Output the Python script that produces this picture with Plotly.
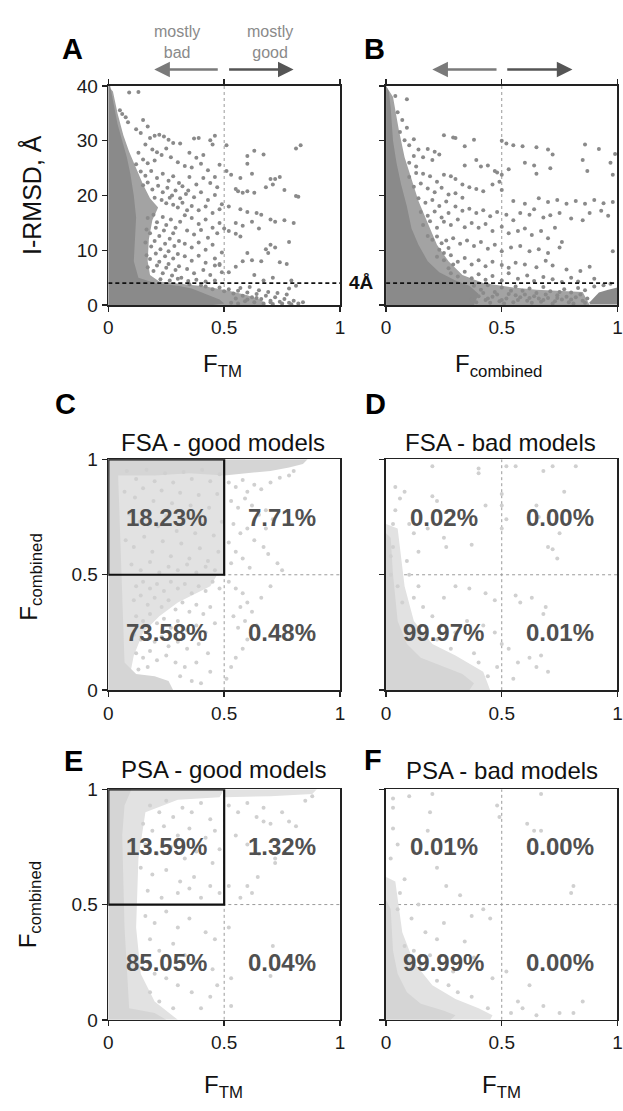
import plotly.graph_objects as go

W, H = 623, 1111

# ---------------- data ----------------
f_ticks = [0, 0.5, 1]
f_ticklabels = ["0", "0.5", "1"]
rmsd_ticks = [0, 10, 20, 30, 40]
rmsd_ticklabels = ["0", "10", "20", "30", "40"]
rmsd_cutoff = 4
split = 0.5

quad_x = [0.25, 0.75, 0.25, 0.75]
quad_y = [0.75, 0.75, 0.25, 0.25]
pct_fsa_good = ["18.23%", "7.71%", "73.58%", "0.48%"]
pct_fsa_bad = ["0.02%", "0.00%", "99.97%", "0.01%"]
pct_psa_good = ["13.59%", "1.32%", "85.05%", "0.04%"]
pct_psa_bad = ["0.01%", "0.00%", "99.99%", "0.00%"]

# Panel A: F_TM vs I-RMSD  (dense core outline, speckled halo outline, individual points)
a_halo_x = [0, 0.02, 0.04, 0.065, 0.09, 0.12, 0.15, 0.18, 0.215, 0.19, 0.175, 0.17, 0.18, 0.22, 0.3,
            0.42, 0.52, 0.6, 0.66, 0.68, 0]
a_halo_y = [40, 39, 35, 31, 28, 25, 22, 19.5, 17.8, 15.5, 12, 8, 5.5, 4.3, 3.9, 3.4, 2.6, 1.8, 0.9, 0, 0]
a_core_x = [0, 0, 0.008, 0.025, 0.04, 0.06, 0.08, 0.095, 0.11, 0.12, 0.115, 0.11, 0.13, 0.2, 0.3,
            0.36, 0.42, 0.48, 0.5, 0.45, 0]
a_core_y = [0, 40, 40, 36, 33, 30, 27, 24, 20, 16, 12, 8, 5, 4, 3.5, 3, 2, 1, 0.3, 0, 0]
a_pts = [
    (0.09, 38.8), (0.13, 38.9), (0.05, 35.6), (0.06, 34.9), (0.075, 34.3), (0.085, 33.4), (0.12, 32.1),
    (0.15, 33.8), (0.17, 32.6), (0.14, 31.4), (0.18, 30.5), (0.2, 30.9), (0.22, 31.1), (0.24, 30.8),
    (0.26, 30.2), (0.28, 29.6), (0.16, 29.3), (0.19, 28.4), (0.21, 27.9), (0.23, 27.4), (0.25, 28.6),
    (0.27, 27.0), (0.13, 27.8), (0.15, 26.6), (0.17, 25.9), (0.2, 26.4), (0.3, 26.1), (0.33, 25.4),
    (0.12, 25.7), (0.14, 24.4), (0.16, 23.6), (0.185, 24.5), (0.21, 23.2), (0.235, 24.0), (0.26, 22.7),
    (0.28, 23.5), (0.305, 22.3), (0.32, 21.7), (0.15, 21.9), (0.17, 22.4), (0.19, 21.1), (0.215, 21.8),
    (0.235, 20.6), (0.255, 21.4), (0.275, 20.0), (0.29, 20.9), (0.31, 19.5), (0.335, 20.3), (0.2, 19.6),
    (0.23, 19.2), (0.25, 18.6), (0.265, 19.6), (0.28, 18.3), (0.3, 17.8), (0.32, 18.7), (0.34, 17.3),
    (0.17, 15.9), (0.195, 16.5), (0.21, 15.1), (0.235, 16.1), (0.25, 14.6), (0.27, 15.6), (0.29, 14.1),
    (0.31, 15.2), (0.165, 13.8), (0.18, 13.1), (0.205, 14.1), (0.22, 12.6), (0.24, 13.6), (0.265, 12.1),
    (0.28, 13.1), (0.305, 11.7), (0.16, 11.4), (0.185, 10.7), (0.2, 11.7), (0.225, 10.2), (0.245, 11.2),
    (0.26, 9.8), (0.285, 10.8), (0.3, 9.3), (0.165, 9.1), (0.18, 8.4), (0.205, 9.4), (0.22, 7.9),
    (0.245, 8.9), (0.26, 7.5), (0.28, 8.5), (0.305, 7.1), (0.17, 6.9), (0.195, 6.2), (0.21, 7.2),
    (0.235, 5.8), (0.25, 6.8), (0.275, 5.4), (0.29, 6.4), (0.315, 5.0), (0.225, 4.7), (0.265, 4.5),
    (0.3, 4.8), (0.345, 4.4), (0.38, 4.6), (0.42, 4.3), (0.46, 4.5),
    (0.31, 29.5), (0.37, 30.4), (0.39, 30.5), (0.44, 30.1), (0.46, 30.9), (0.45, 29.3), (0.35, 27.8),
    (0.38, 26.9), (0.41, 27.4), (0.36, 25.1), (0.4, 25.8), (0.43, 24.6), (0.46, 23.4), (0.48, 25.6),
    (0.41, 23.2), (0.44, 22.3), (0.35, 23.4), (0.38, 22.0), (0.47, 21.5), (0.345, 20.9), (0.37, 19.7),
    (0.4, 20.6), (0.43, 19.2), (0.46, 20.1), (0.49, 18.4), (0.36, 18.1), (0.39, 17.3), (0.42, 18.0),
    (0.45, 16.8), (0.48, 17.5), (0.33, 16.4), (0.36, 15.9), (0.39, 14.8), (0.42, 15.6), (0.45, 14.1),
    (0.48, 15.0), (0.34, 13.6), (0.37, 12.9), (0.4, 13.7), (0.43, 12.3), (0.47, 13.1), (0.33, 11.2),
    (0.36, 10.5), (0.39, 11.4), (0.42, 10.1), (0.45, 11.0), (0.49, 9.6), (0.33, 8.9), (0.36, 8.1),
    (0.39, 9.0), (0.42, 7.7), (0.46, 8.5), (0.48, 7.3), (0.34, 6.6), (0.37, 5.8), (0.41, 6.4),
    (0.44, 5.5), (0.49, 6.0),
    (0.51, 29.2), (0.81, 28.6), (0.83, 29.2), (0.63, 28.2), (0.6, 27.2), (0.67, 27.5), (0.51, 24.5),
    (0.53, 23.8), (0.57, 23.2), (0.6, 25.8), (0.62, 24.0), (0.7, 23.0), (0.72, 23.0), (0.74, 23.4),
    (0.71, 22.0), (0.68, 21.5), (0.76, 21.0), (0.81, 19.9), (0.82, 19.8), (0.55, 21.2), (0.56, 20.8),
    (0.58, 20.5), (0.6, 20.8), (0.63, 20.5), (0.52, 18.0), (0.57, 17.5), (0.6, 17.0), (0.64, 16.8),
    (0.66, 16.5), (0.7, 15.6), (0.72, 15.2), (0.76, 15.5), (0.8, 15.0), (0.55, 15.0), (0.58, 14.5),
    (0.62, 15.2), (0.65, 14.0), (0.5, 14.0), (0.52, 13.5), (0.55, 13.0), (0.57, 12.5), (0.7, 11.0),
    (0.72, 10.5), (0.68, 10.2), (0.78, 11.5), (0.6, 9.5), (0.58, 8.0), (0.62, 8.2), (0.74, 7.8),
    (0.77, 7.5), (0.66, 8.0), (0.69, 9.5), (0.48, 7.5), (0.46, 7.2), (0.55, 7.0), (0.52, 6.0),
    (0.63, 5.5), (0.67, 4.5), (0.71, 5.0), (0.79, 4.5), (0.81, 3.5), (0.78, 3.0),
    (0.42, 3.4), (0.45, 2.9), (0.48, 3.2), (0.5, 2.5), (0.52, 2.9), (0.54, 2.1), (0.56, 2.6),
    (0.58, 1.7), (0.6, 2.3), (0.62, 1.4), (0.64, 2.0), (0.66, 1.1), (0.68, 1.7), (0.7, 0.8),
    (0.72, 1.4), (0.74, 0.6), (0.76, 1.1), (0.78, 0.4), (0.8, 0.8), (0.82, 0.3), (0.84, 0.5),
    (0.55, 1.2), (0.59, 0.7), (0.63, 0.5), (0.67, 0.3), (0.71, 0.2), (0.75, 0.3), (0.79, 0.15),
    (0.57, 3.1), (0.61, 3.3), (0.65, 2.7), (0.69, 2.4), (0.73, 2.2), (0.77, 1.9), (0.53, 0.4),
    (0.6, 1.0), (0.64, 1.3), (0.56, 0.3), (0.7, 0.5), (0.35, 3.8), (0.4, 3.6),
]

# Panel B: F_combined vs I-RMSD
b_halo_x = [0, 0.03, 0.055, 0.08, 0.11, 0.14, 0.18, 0.22, 0.27, 0.33, 0.42, 0.55, 0.65, 0.75, 0.85, 0.88, 0]
b_halo_y = [40, 38, 32, 27, 23, 19, 15, 11, 8, 5.5, 4, 3.2, 2.8, 2.6, 2.4, 0, 0]
b_core_x = [0, 0, 0.012, 0.02, 0.03, 0.045, 0.065, 0.09, 0.11, 0.14, 0.18, 0.23, 0.3, 0.36, 0.4, 0.38, 0]
b_core_y = [0, 40, 39, 36, 30, 26, 22, 18, 14, 11, 8, 6, 4.5, 3.5, 2, 0, 0]
b_core2_x = [0.88, 0.92, 0.96, 1.0, 1.0, 0.88]
b_core2_y = [0.5, 2.3, 2.8, 3.2, 0.1, 0.1]
b_pts = [
    (0.09, 37.6), (0.04, 38.2), (0.05, 35.2), (0.07, 33.8), (0.09, 32.4), (0.06, 31.6), (0.08, 30.1),
    (0.12, 30.3), (0.1, 29.2), (0.25, 31.0), (0.29, 30.6), (0.3, 30.5), (0.38, 30.2), (0.34, 29.0),
    (0.5, 30.0), (0.52, 29.5), (0.55, 29.2), (0.59, 29.0), (0.65, 28.8), (0.7, 28.4), (0.72, 27.5),
    (0.86, 29.3), (0.92, 28.5), (0.99, 27.6), (0.14, 28.4), (0.18, 28.5), (0.21, 28.0), (0.23, 27.5),
    (0.12, 27.2), (0.16, 27.0), (0.2, 26.5), (0.1, 26.0), (0.13, 25.3), (0.34, 25.5), (0.39, 26.5),
    (0.41, 25.3), (0.44, 25.5), (0.47, 24.5), (0.48, 24.2), (0.5, 23.8), (0.53, 24.8), (0.6, 26.0),
    (0.64, 25.5), (0.65, 24.0), (0.71, 25.0), (0.85, 26.5), (0.87, 24.5), (0.97, 26.0), (0.98, 23.8),
    (0.1, 23.4), (0.13, 24.1), (0.16, 24.0), (0.19, 23.5), (0.22, 22.5), (0.25, 23.8), (0.28, 23.5),
    (0.3, 23.0), (0.33, 22.0), (0.12, 21.6), (0.15, 22.2), (0.18, 21.3), (0.21, 20.6), (0.24, 21.4),
    (0.27, 20.2), (0.36, 21.5), (0.39, 21.2), (0.42, 20.8), (0.46, 22.0), (0.49, 22.5), (0.5, 21.0),
    (0.3, 20.4), (0.33, 19.6), (0.55, 19.0), (0.6, 18.5), (0.66, 19.5), (0.7, 18.8), (0.74, 19.2),
    (0.78, 18.5), (0.82, 19.0), (0.86, 18.5), (0.9, 19.2), (0.94, 18.6), (0.98, 18.8), (0.58, 16.8),
    (0.62, 16.5), (0.64, 17.5), (0.68, 16.0), (0.71, 16.4), (0.75, 16.8), (0.8, 15.8), (0.85, 15.5),
    (0.88, 16.8), (0.96, 16.3), (0.93, 17.2), (0.14, 19.5), (0.17, 18.7), (0.2, 19.2), (0.23, 18.1),
    (0.26, 18.9), (0.15, 17.0), (0.18, 16.3), (0.21, 17.1), (0.24, 16.0), (0.27, 16.8), (0.3, 18.0),
    (0.33, 17.2), (0.36, 17.6), (0.39, 16.8), (0.42, 17.3), (0.45, 16.2), (0.48, 17.0), (0.52, 16.5),
    (0.55, 15.5), (0.16, 14.6), (0.19, 15.3), (0.22, 14.1), (0.25, 15.2), (0.28, 14.6), (0.31, 15.6),
    (0.34, 14.2), (0.37, 15.0), (0.4, 14.1), (0.43, 14.8), (0.46, 13.5), (0.5, 14.3), (0.53, 13.1),
    (0.57, 13.5), (0.6, 14.0), (0.63, 12.8), (0.67, 13.5), (0.7, 12.2), (0.73, 14.1), (0.76, 11.5),
    (0.18, 12.6), (0.2, 11.9), (0.22, 12.5), (0.24, 11.3), (0.26, 11.8), (0.29, 12.2), (0.32, 11.2),
    (0.35, 11.8), (0.38, 10.8), (0.41, 11.5), (0.44, 10.3), (0.47, 11.0), (0.5, 9.8), (0.54, 10.5),
    (0.58, 10.8), (0.62, 9.8), (0.66, 10.2), (0.7, 9.5), (0.75, 10.5), (0.98, 9.8), (0.23, 10.1),
    (0.25, 9.5), (0.27, 10.4), (0.22, 8.8), (0.25, 8.2), (0.28, 9.1), (0.31, 7.9), (0.34, 8.6),
    (0.37, 7.4), (0.4, 8.2), (0.43, 7.1), (0.46, 7.9), (0.5, 7.3), (0.53, 6.8), (0.56, 7.7),
    (0.6, 7.4), (0.65, 6.9), (0.69, 8.1), (0.72, 7.2), (0.78, 6.5), (0.84, 6.2), (0.88, 7.0),
    (0.27, 6.7), (0.29, 7.4), (0.28, 5.8), (0.31, 5.2), (0.34, 6.1), (0.37, 4.9), (0.4, 5.6),
    (0.43, 4.6), (0.46, 5.3), (0.5, 4.5), (0.53, 5.8), (0.57, 4.8), (0.61, 5.4), (0.64, 4.4),
    (0.68, 5.1), (0.72, 4.7), (0.76, 4.2), (0.8, 5.0), (0.83, 4.3), (0.9, 4.8),
    (0.38, 3.5), (0.41, 2.8), (0.44, 3.6), (0.47, 2.4), (0.5, 3.2), (0.53, 2.0), (0.56, 3.4),
    (0.59, 2.6), (0.62, 3.0), (0.65, 2.2), (0.68, 3.3), (0.71, 2.5), (0.74, 1.8), (0.77, 2.9),
    (0.8, 2.3), (0.83, 3.1), (0.86, 2.7), (0.4, 1.6), (0.43, 0.9), (0.46, 1.5), (0.49, 0.7),
    (0.52, 1.2), (0.55, 0.5), (0.58, 1.4), (0.61, 0.8), (0.64, 1.6), (0.67, 0.6), (0.7, 1.3),
    (0.73, 0.7), (0.76, 1.0), (0.79, 0.5), (0.82, 1.4), (0.85, 0.8), (0.42, 2.2), (0.45, 0.4),
    (0.48, 1.9), (0.51, 0.3), (0.54, 2.6), (0.57, 0.9), (0.6, 1.9), (0.63, 0.4), (0.66, 1.2),
    (0.69, 1.9), (0.72, 0.3), (0.75, 2.4), (0.78, 1.5), (0.81, 0.3), (0.84, 1.9), (0.87, 1.2),
    (0.37, 1.0), (0.39, 0.5), (0.44, 1.2), (0.5, 0.9), (0.56, 1.8), (0.62, 1.3), (0.68, 0.9),
    (0.74, 1.3), (0.8, 1.0), (0.86, 0.4), (0.9, 3.4), (0.94, 3.6), (0.97, 3.9),
]

# Panel C: FSA good models (F_TM vs F_combined)
c_halo_x = [0, 0.5, 0.5, 0.47, 0.44, 0.38, 0.3, 0.22, 0.15, 0.11, 0.09, 0]
c_halo_y = [1, 1, 0.5, 0.5, 0.45, 0.42, 0.38, 0.32, 0.25, 0.15, 0.05, 0]
c_core_x = [0, 0, 0.04, 0.05, 0.06, 0.07, 0.12, 0.2, 0.26, 0.28, 0]
c_core_y = [0, 1, 1, 0.7, 0.4, 0.12, 0.07, 0.06, 0.04, 0, 0]
c_top_x = [0, 0.86, 0.84, 0.78, 0.7, 0.6, 0.5, 0.35, 0.2, 0]
c_top_y = [1, 1, 0.98, 0.965, 0.95, 0.94, 0.93, 0.94, 0.93, 0.93]
c_pts = [
    (0.08, 0.95), (0.12, 0.915), (0.165, 0.955), (0.2, 0.905), (0.245, 0.94), (0.28, 0.9), (0.325, 0.945),
    (0.36, 0.915), (0.405, 0.955), (0.44, 0.905), (0.48, 0.935), (0.07, 0.86), (0.115, 0.835),
    (0.15, 0.875), (0.195, 0.82), (0.23, 0.865), (0.275, 0.81), (0.31, 0.855), (0.355, 0.8), (0.39, 0.845),
    (0.435, 0.79), (0.47, 0.85), (0.09, 0.765), (0.135, 0.73), (0.17, 0.775), (0.215, 0.71), (0.25, 0.755),
    (0.295, 0.69), (0.33, 0.745), (0.375, 0.68), (0.41, 0.72), (0.455, 0.67), (0.49, 0.73), (0.075, 0.65),
    (0.11, 0.62), (0.155, 0.665), (0.19, 0.6), (0.235, 0.645), (0.27, 0.58), (0.315, 0.635), (0.35, 0.57),
    (0.395, 0.615), (0.43, 0.56), (0.475, 0.6), (0.1, 0.545), (0.14, 0.52), (0.18, 0.555), (0.22, 0.51),
    (0.26, 0.535), (0.3, 0.52), (0.34, 0.545), (0.38, 0.51), (0.42, 0.535), (0.46, 0.52),
    (0.52, 0.9), (0.55, 0.88), (0.58, 0.91), (0.6, 0.86), (0.63, 0.89), (0.66, 0.87), (0.7, 0.9),
    (0.74, 0.92), (0.78, 0.93), (0.8, 0.95), (0.53, 0.82), (0.56, 0.79), (0.59, 0.83), (0.62, 0.8),
    (0.65, 0.76), (0.68, 0.78), (0.71, 0.74), (0.54, 0.72), (0.57, 0.68), (0.6, 0.7), (0.63, 0.65),
    (0.67, 0.62), (0.69, 0.59), (0.52, 0.64), (0.55, 0.6), (0.58, 0.57), (0.73, 0.55), (0.75, 0.52),
    (0.53, 0.55), (0.61, 0.53), (0.68, 0.7),
    (0.52, 0.47), (0.55, 0.44), (0.58, 0.42), (0.6, 0.38), (0.57, 0.36), (0.62, 0.34), (0.59, 0.3),
    (0.56, 0.27), (0.64, 0.28), (0.6, 0.22), (0.58, 0.18), (0.55, 0.14), (0.53, 0.1), (0.51, 0.05),
    (0.66, 0.4), (0.7, 0.45), (0.54, 0.32),
    (0.12, 0.45), (0.15, 0.47), (0.18, 0.44), (0.21, 0.46), (0.24, 0.43), (0.27, 0.47), (0.3, 0.44),
    (0.33, 0.46), (0.36, 0.42), (0.39, 0.45), (0.42, 0.43), (0.45, 0.47), (0.48, 0.44), (0.11, 0.39),
    (0.14, 0.41), (0.17, 0.37), (0.2, 0.4), (0.23, 0.36), (0.26, 0.39), (0.29, 0.35), (0.32, 0.38),
    (0.35, 0.34), (0.38, 0.37), (0.41, 0.33), (0.44, 0.36), (0.12, 0.32), (0.15, 0.3), (0.18, 0.33),
    (0.21, 0.29), (0.24, 0.31), (0.27, 0.27), (0.3, 0.3), (0.34, 0.26), (0.38, 0.28), (0.42, 0.25),
    (0.46, 0.29), (0.11, 0.24), (0.14, 0.22), (0.17, 0.25), (0.2, 0.21), (0.23, 0.23), (0.26, 0.19),
    (0.3, 0.21), (0.34, 0.18), (0.39, 0.2), (0.43, 0.16), (0.12, 0.16), (0.15, 0.14), (0.18, 0.17),
    (0.21, 0.13), (0.25, 0.15), (0.29, 0.12), (0.33, 0.1), (0.38, 0.12), (0.44, 0.08), (0.13, 0.09),
    (0.17, 0.1), (0.31, 0.06), (0.36, 0.04), (0.4, 0.03),
]

# Panel D: FSA bad models
d_halo_x = [0, 0, 0.05, 0.08, 0.12, 0.2, 0.3, 0.42, 0.45, 0]
d_halo_y = [0, 0.72, 0.7, 0.45, 0.3, 0.2, 0.15, 0.08, 0, 0]
d_core_x = [0, 0, 0.02, 0.03, 0.05, 0.09, 0.15, 0.25, 0.33, 0.38, 0.36, 0]
d_core_y = [0, 0.68, 0.66, 0.5, 0.3, 0.2, 0.14, 0.1, 0.07, 0.03, 0, 0]
d_pts = [
    (0.2, 0.97), (0.4, 0.96), (0.4, 0.94), (0.52, 0.97), (0.56, 0.97), (0.72, 0.97), (0.68, 0.95),
    (0.82, 0.97), (0.04, 0.88), (0.08, 0.86), (0.06, 0.83), (0.2, 0.84), (0.22, 0.82), (0.43, 0.8),
    (0.5, 0.85), (0.5, 0.8), (0.52, 0.74), (0.5, 0.7), (0.77, 0.86), (0.65, 0.8), (0.66, 0.75),
    (0.62, 0.72), (0.75, 0.68), (0.7, 0.62), (0.72, 0.61), (0.74, 0.57), (0.1, 0.72), (0.12, 0.68),
    (0.18, 0.7), (0.26, 0.62), (0.25, 0.66), (0.37, 0.63), (0.14, 0.6), (0.1, 0.5), (0.14, 0.45),
    (0.25, 0.4), (0.3, 0.45), (0.36, 0.44), (0.43, 0.42), (0.47, 0.39), (0.56, 0.41), (0.58, 0.38),
    (0.63, 0.4), (0.69, 0.36), (0.68, 0.33), (0.2, 0.32), (0.24, 0.28), (0.3, 0.25), (0.35, 0.3),
    (0.42, 0.28), (0.47, 0.25), (0.5, 0.2), (0.53, 0.18), (0.57, 0.12), (0.62, 0.14), (0.65, 0.1),
    (0.67, 0.15), (0.7, 0.08), (0.55, 0.05), (0.48, 0.1), (0.44, 0.06), (0.02, 0.5), (0.02, 0.58),
    (0.03, 0.62), (0.05, 0.45), (0.07, 0.38), (0.04, 0.78), (0.03, 0.72), (0.09, 0.56), (0.16, 0.36),
    (0.12, 0.4), (0.22, 0.22), (0.28, 0.18), (0.38, 0.16), (0.4, 0.12),
]

# Panel E: PSA good models
e_halo_x = [0, 0, 0.5, 0.48, 0.3, 0.16, 0.13, 0.12, 0.14, 0.2, 0.3, 0]
e_halo_y = [0, 1, 1, 0.965, 0.955, 0.9, 0.7, 0.4, 0.2, 0.08, 0, 0]
e_top_x = [0.5, 0.9, 0.88, 0.7, 0.5]
e_top_y = [1, 1, 0.98, 0.97, 0.965]
e_core_x = [0, 0, 0.1, 0.07, 0.06, 0.065, 0.07, 0.09, 0.2, 0.25, 0]
e_core_y = [0, 1, 1, 0.93, 0.8, 0.6, 0.4, 0.05, 0.03, 0, 0]
e_pts = [
    (0.18, 0.93), (0.22, 0.9), (0.25, 0.95), (0.28, 0.88), (0.32, 0.92), (0.36, 0.9), (0.4, 0.94),
    (0.44, 0.87), (0.15, 0.85), (0.19, 0.82), (0.24, 0.84), (0.3, 0.8), (0.35, 0.83), (0.42, 0.79),
    (0.46, 0.82), (0.48, 0.74), (0.16, 0.76), (0.21, 0.72), (0.27, 0.75), (0.33, 0.7), (0.38, 0.73),
    (0.45, 0.68), (0.14, 0.66), (0.19, 0.63), (0.25, 0.65), (0.31, 0.6), (0.37, 0.62), (0.44, 0.58),
    (0.48, 0.55), (0.17, 0.56), (0.23, 0.53), (0.3, 0.55), (0.4, 0.53), (0.35, 0.57),
    (0.52, 0.93), (0.56, 0.9), (0.6, 0.94), (0.64, 0.88), (0.67, 0.92), (0.7, 0.85), (0.75, 0.9),
    (0.78, 0.86), (0.81, 0.84), (0.55, 0.8), (0.6, 0.76), (0.65, 0.72), (0.72, 0.7), (0.67, 0.86),
    (0.72, 0.68), (0.645, 0.62), (0.6, 0.58), (0.57, 0.53), (0.52, 0.58), (0.62, 0.55), (0.73, 0.78),
    (0.85, 0.95), (0.88, 0.97),
    (0.16, 0.45), (0.2, 0.42), (0.25, 0.47), (0.3, 0.4), (0.35, 0.44), (0.42, 0.38), (0.46, 0.35),
    (0.18, 0.35), (0.22, 0.3), (0.28, 0.33), (0.33, 0.28), (0.38, 0.25), (0.45, 0.22), (0.17, 0.25),
    (0.2, 0.2), (0.25, 0.18), (0.3, 0.15), (0.36, 0.12), (0.44, 0.1), (0.47, 0.15), (0.18, 0.12),
    (0.22, 0.08), (0.28, 0.05), (0.4, 0.05), (0.52, 0.4), (0.53, 0.18), (0.7, 0.19), (0.71, 0.32),
    (0.53, 0.06),
]

# Panel F: PSA bad models
f_halo_x = [0, 0, 0.04, 0.07, 0.12, 0.2, 0.3, 0.4, 0.46, 0.45, 0]
f_halo_y = [0, 0.62, 0.6, 0.38, 0.25, 0.15, 0.09, 0.05, 0.02, 0, 0]
f_core_x = [0, 0, 0.02, 0.03, 0.05, 0.09, 0.15, 0.25, 0.3, 0.28, 0]
f_core_y = [0, 0.52, 0.48, 0.3, 0.2, 0.12, 0.07, 0.04, 0.02, 0, 0]
f_pts = [
    (0.03, 0.96), (0.1, 0.97), (0.2, 0.98), (0.19, 0.9), (0.18, 0.82), (0.03, 0.92), (0.03, 0.83),
    (0.05, 0.76), (0.12, 0.73), (0.49, 0.88), (0.48, 0.93), (0.61, 0.85), (0.64, 0.82), (0.67, 0.98),
    (0.67, 0.82), (0.81, 0.58), (0.8, 0.55), (0.26, 0.58), (0.32, 0.54), (0.22, 0.66), (0.08, 0.61),
    (0.05, 0.48), (0.11, 0.44), (0.17, 0.38), (0.22, 0.35), (0.25, 0.42), (0.37, 0.45), (0.45, 0.44),
    (0.42, 0.48), (0.34, 0.34), (0.38, 0.27), (0.29, 0.21), (0.46, 0.18), (0.52, 0.21), (0.57, 0.08),
    (0.59, 0.05), (0.62, 0.15), (0.68, 0.06), (0.75, 0.03), (0.81, 0.03), (0.85, 0.08), (0.65, 0.02),
    (0.54, 0.03), (0.44, 0.05), (0.37, 0.1), (0.31, 0.12), (0.22, 0.17), (0.15, 0.24), (0.12, 0.3),
    (0.08, 0.32), (0.02, 0.7), (0.06, 0.55), (0.14, 0.5), (0.19, 0.28), (0.27, 0.15),
]

# ---------------- layout helpers ----------------
def px(xp):
    return xp / W

def py(yp):
    return 1 - yp / H

col_dom = [[px(105), px(340.5)], [px(387.3), px(622.4)]]
row_dom = [[py(300.7), py(77.5)], [py(693.3), py(458.0)], [py(1029.3), py(794.3)]]

DARK = "#8a8a8a"
DARK_HALO = "#a3a3a3"
LIGHT_PT = "#d0d0d0"
LIGHT_CORE = "#d5d5d5"
LIGHT_HALO = "#e2e2e2"
FONT = "Liberation Sans, Arial, Helvetica, sans-serif"

fig = go.Figure()


def poly(xs, ys, color, ax):
    fig.add_trace(go.Scatter(x=xs, y=ys, fill="toself", mode="lines", fillcolor=color,
                             line=dict(width=0, color=color), hoverinfo="skip", showlegend=False,
                             xaxis=ax[0], yaxis=ax[1]))


def pts(pairs, color, size, ax):
    fig.add_trace(go.Scatter(x=[p[0] for p in pairs], y=[p[1] for p in pairs], mode="markers",
                             marker=dict(size=size, color=color, line=dict(width=0)),
                             hoverinfo="skip", showlegend=False, xaxis=ax[0], yaxis=ax[1]))


axA, axB, axC, axD, axE, axF = [("x", "y"), ("x2", "y2"), ("x3", "y3"), ("x4", "y4"), ("x5", "y5"), ("x6", "y6")]

poly(a_halo_x, a_halo_y, DARK_HALO, axA)
poly(a_core_x, a_core_y, DARK, axA)
pts(a_pts, DARK, 4, axA)
poly(b_halo_x, b_halo_y, DARK_HALO, axB)
poly(b_core_x, b_core_y, DARK, axB)
poly(b_core2_x, b_core2_y, DARK, axB)
pts(b_pts, DARK, 4, axB)

poly(c_halo_x, c_halo_y, LIGHT_HALO, axC)
poly(c_core_x, c_core_y, LIGHT_CORE, axC)
poly(c_top_x, c_top_y, LIGHT_CORE, axC)
pts(c_pts, LIGHT_PT, 4, axC)

poly(d_halo_x, d_halo_y, LIGHT_HALO, axD)
poly(d_core_x, d_core_y, LIGHT_CORE, axD)
pts(d_pts, LIGHT_PT, 4, axD)

poly(e_halo_x, e_halo_y, LIGHT_HALO, axE)
poly(e_top_x, e_top_y, LIGHT_HALO, axE)
poly(e_core_x, e_core_y, LIGHT_CORE, axE)
pts(e_pts, LIGHT_PT, 4, axE)

poly(f_halo_x, f_halo_y, LIGHT_HALO, axF)
poly(f_core_x, f_core_y, LIGHT_CORE, axF)
pts(f_pts, LIGHT_PT, 4, axF)

axis_common = dict(showline=True, linecolor="#222", linewidth=1.6, ticks="outside", ticklen=5,
                   tickwidth=1.4, tickcolor="#222", showgrid=False, zeroline=False,
                   tickfont=dict(family=FONT, size=19, color="#1a1a1a"), fixedrange=True)

layout = dict(width=W, height=H, margin=dict(l=0, r=0, t=0, b=0), paper_bgcolor="white",
              plot_bgcolor="white", showlegend=False)

panels = [(0, 0), (0, 1), (1, 0), (1, 1), (2, 0), (2, 1)]
for i, (r, c) in enumerate(panels):
    n = "" if i == 0 else str(i + 1)
    xa = dict(axis_common, domain=col_dom[c], range=[0, 1], tickvals=f_ticks, ticktext=f_ticklabels,
              anchor="y" + n, mirror="ticks" if r == 0 else True)
    if r == 0:
        ya = dict(axis_common, domain=row_dom[r], range=[0, 40], tickvals=rmsd_ticks,
                  ticktext=rmsd_ticklabels, anchor="x" + n, mirror=True,
                  showticklabels=(c == 0))
    else:
        ya = dict(axis_common, domain=row_dom[r], range=[0, 1], tickvals=f_ticks,
                  ticktext=f_ticklabels, anchor="x" + n, mirror=True, showticklabels=(c == 0))
    layout["xaxis" + n] = xa
    layout["yaxis" + n] = ya

fig.update_layout(**layout)

# ---------------- shapes ----------------
shapes = []
DOT = dict(color="#9a9a9a", width=1, dash="dot")
for i, (r, c) in enumerate(panels):
    n = "" if i == 0 else str(i + 1)
    ymax = 40 if r == 0 else 1
    shapes.append(dict(type="line", xref="x" + n, yref="y" + n, x0=split, x1=split, y0=0, y1=ymax,
                       line=DOT, layer="below"))
    if r == 0:
        shapes.append(dict(type="line", xref="x" + n, yref="y" + n, x0=0, x1=1, y0=rmsd_cutoff,
                           y1=rmsd_cutoff, line=dict(color="#111", width=1.8, dash="4px,3px")))
    else:
        shapes.append(dict(type="line", xref="x" + n, yref="y" + n, x0=0, x1=1, y0=split, y1=split,
                           line=DOT, layer="below"))
        if c == 0:
            shapes.append(dict(type="rect", xref="x" + n, yref="y" + n, x0=0, x1=split, y0=split, y1=1,
                               line=dict(color="#111", width=2.2)))
fig.update_layout(shapes=shapes)

# ---------------- annotations ----------------
ann = []


def txt(text, xp, yp, size, color="#111", bold=False, angle=0, xanchor="center"):
    t = f"<b>{text}</b>" if bold else text
    ann.append(dict(text=t, x=px(xp), y=py(yp), xref="paper", yref="paper", showarrow=False,
                    xanchor=xanchor, yanchor="middle", textangle=angle,
                    font=dict(family=FONT, size=size, color=color)))


for letter, xp, yp in [("A", 69, 40), ("B", 376, 40), ("C", 61, 402), ("D", 377, 402),
                       ("E", 70, 765), ("F", 374, 764)]:
    txt(letter, xp, yp, 29, "#000", bold=True)

txt("FSA - good models", 222, 441, 24)
txt("FSA - bad models", 504, 441, 24)
txt("PSA - good models", 222, 774, 24)
txt("PSA - bad models", 505, 775, 24)

txt("I-RMSD, Å", 27, 189, 25, angle=-90)
txt("F<sub>TM</sub>", 221, 362, 24)
txt("F<sub>combined</sub>", 502, 362, 24)
txt("F<sub>combined</sub>", 25, 578, 24, angle=-90)
txt("F<sub>combined</sub>", 25, 912, 24, angle=-90)
txt("F<sub>TM</sub>", 222, 1097, 24)
txt("F<sub>TM</sub>", 505, 1097, 24)

txt("mostly<br>bad", 175, 33, 16, "#8a8a8a")
txt("mostly<br>good", 269, 33, 16, "#8a8a8a")

txt("4Å", 362.5, 277.5, 19, "#111", bold=True)

for hx, tx, col in [(151.7, 216.7, "#7a7a7a"), (293.3, 227.3, "#555555"),
                    (434.3, 500.0, "#7a7a7a"), (576.7, 510.0, "#555555")]:
    ann.append(dict(x=px(hx), y=py(60.7), xref="paper", yref="paper", ax=tx - hx, ay=0,
                    axref="pixel", ayref="pixel", text="", showarrow=True, arrowhead=2,
                    arrowsize=1.2, arrowwidth=2.6, arrowcolor=col))

for (n, labels) in [("3", pct_fsa_good), ("4", pct_fsa_bad), ("5", pct_psa_good), ("6", pct_psa_bad)]:
    for qx, qy, lab in zip(quad_x, quad_y, labels):
        ann.append(dict(text=f"<b>{lab}</b>", x=qx, y=qy, xref="x" + n, yref="y" + n, showarrow=False,
                        font=dict(family=FONT, size=24, color="#505050")))

fig.update_layout(annotations=ann)

# no mode bar; remove the browser's default 8px body margin so the figure sits at the page origin
fig.write_html("out.html", config={"displayModeBar": False, "staticPlot": True},
               post_script="document.body.style.margin='0px';")
